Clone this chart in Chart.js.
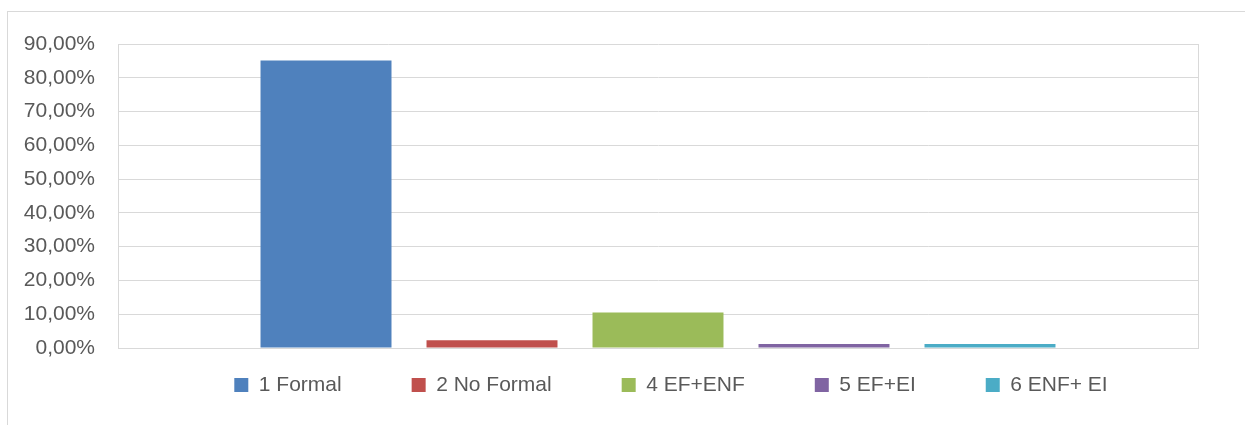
<!DOCTYPE html>
<html>
<head>
<meta charset="utf-8">
<script src="https://cdn.jsdelivr.net/npm/chart.js@4/dist/chart.umd.min.js"></script>
<style>
  html, body { margin: 0; padding: 0; background: #ffffff; }
  #wrap { position: relative; width: 1245px; height: 425px; overflow: hidden; }
  #frame { position: absolute; left: 7px; top: 11px; width: 1400px; height: 600px;
           border-top: 1px solid #d9d9d9; border-left: 1px solid #d9d9d9; }
  #c { position: absolute; left: 0; top: 0; }
</style>
</head>
<body>
<div id="wrap">
  <div id="frame"></div>
  <canvas id="c" width="1245" height="425"></canvas>
</div>
<script>
// ---- data ----
const categories = [''];
const seriesNames = ['1 Formal', '2 No Formal', '4 EF+ENF', '5 EF+EI', '6 ENF+ EI'];
const seriesValues = [85.1, 2.3, 10.5, 1.15, 1.15];
const seriesColors = ['#4F81BD', '#C0504D', '#9BBB59', '#8064A2', '#4BACC6'];
const yTickMax = 90;
const yTickStep = 10;

const FONT = "'Liberation Sans', Arial, sans-serif";
const TEXT_COLOR = '#595959';
const GRID_COLOR = '#d9d9d9';

const datasets = seriesNames.map((name, i) => ({
  label: name,
  data: [seriesValues[i]],
  backgroundColor: seriesColors[i],
  borderWidth: 0,
  categoryPercentage: 0.7685,
  barPercentage: 0.789
}));

// moves the built-in legend to the place it occupies in the reference
const legendPlace = {
  id: 'legendPlace',
  afterLayout(chart) {
    const lg = chart.legend;
    if (!lg) return;
    const pad = lg.options.labels.padding;
    const fontSize = lg.options.labels.font.size;
    const itemH = Math.max(lg.options.labels.boxHeight, fontSize);
    const targetCenterY = 385;
    lg.top = targetCenterY - pad - itemH / 2;
    lg.bottom = chart.height;
    lg.height = lg.bottom - lg.top;
    const dx = 671 - (lg.left + lg.right) / 2;
    lg.left += dx;
    lg.right += dx;
  }
};

new Chart(document.getElementById('c'), {
  type: 'bar',
  data: { labels: categories, datasets },
  options: {
    responsive: false,
    animation: false,
    devicePixelRatio: 1,
    layout: { padding: { left: 0, right: 47, top: 44, bottom: 0 } },
    plugins: {
      legend: {
        position: 'bottom',
        maxHeight: 40,
        labels: {
          boxWidth: 14,
          boxHeight: 14,
          padding: 70,
          color: TEXT_COLOR,
          font: { family: FONT, size: 21 }
        }
      },
      tooltip: { enabled: false }
    },
    scales: {
      x: {
        ticks: { display: false },
        grid: { color: GRID_COLOR, lineWidth: 1, drawTicks: false },
        border: { color: GRID_COLOR, width: 1 },
        afterFit(scale) { scale.height = 37; }
      },
      y: {
        min: 0,
        max: yTickMax,
        ticks: {
          stepSize: yTickStep,
          padding: 23,
          color: TEXT_COLOR,
          font: { family: FONT, size: 21 },
          callback: v => v.toFixed(2).replace('.', ',') + '%'
        },
        grid: { color: GRID_COLOR, lineWidth: 1, drawTicks: false },
        border: { color: GRID_COLOR, width: 1 },
        afterFit(scale) { scale.width = 118; }
      }
    }
  },
  plugins: [legendPlace]
});
</script>
</body>
</html>
